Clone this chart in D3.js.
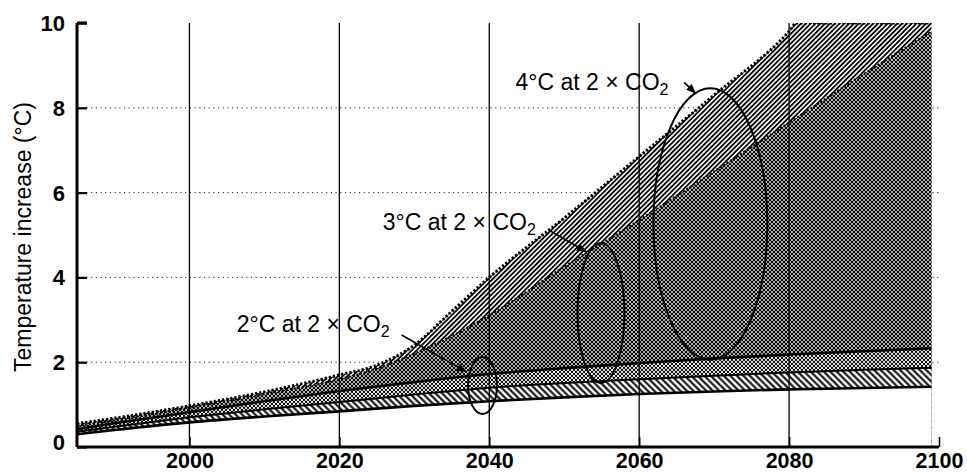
<!DOCTYPE html>
<html><head><meta charset="utf-8">
<script src="https://cdn.jsdelivr.net/npm/d3@7"></script>
<style>body{margin:0;background:#fff}svg{display:block;font-family:"Liberation Sans",Arial,Helvetica,sans-serif}</style>
</head><body><svg id="c" width="967" height="474"></svg>
<script>
// ---- data ----
const xTicks = [2000, 2020, 2040, 2060, 2080, 2100];
const yTicks = [0, 2, 4, 6, 8, 10];
const yTitle = "Temperature increase (°C)";
// outer (4°C at 2xCO2) upper edge
const topYears  = [1985, 1990, 2000, 2010, 2020, 2025, 2030, 2035, 2040, 2050, 2060, 2070, 2080, 2081, 2090, 2099];
const topValues = [0.55, 0.68, 0.97, 1.3, 1.7, 1.93, 2.4, 3.2, 4.0, 5.4, 6.85, 8.3, 9.8, 10, 10, 10];
// 3°C at 2xCO2 upper edge
const midYears  = [1985, 1990, 2000, 2010, 2020, 2025, 2030, 2035, 2040, 2050, 2060, 2070, 2080, 2090, 2099];
const midValues = [0.5, 0.63, 0.93, 1.25, 1.6, 1.85, 2.2, 2.62, 3.1, 4.25, 5.35, 6.5, 7.65, 8.8, 9.8];
// lower curves
const lowYears   = [1985, 1990, 2000, 2010, 2020, 2030, 2040, 2050, 2060, 2070, 2080, 2090, 2099];
const upperLine  = [0.42, 0.56, 0.82, 1.08, 1.32, 1.53, 1.72, 1.86, 1.98, 2.09, 2.18, 2.26, 2.33];
const middleLine = [0.36, 0.48, 0.70, 0.89, 1.06, 1.24, 1.40, 1.51, 1.60, 1.68, 1.76, 1.82, 1.87];
const bottomLine = [0.30, 0.40, 0.58, 0.72, 0.84, 0.97, 1.08, 1.17, 1.25, 1.31, 1.36, 1.39, 1.42];
// ellipse annotations
const ellipseNames   = ["2°C at 2 × CO", "3°C at 2 × CO", "4°C at 2 × CO"];
const ellipseYears   = [2039.1, 2054.9, 2069.5];
const ellipseValues  = [1.45, 3.16, 5.26];
const ellipseHalfYr  = [1.93, 3.13, 7.6];
const ellipseHalfVal = [0.67, 1.65, 3.2];

// ---- layout ----
const svg = d3.select("#c");
const x = d3.scaleLinear().domain([1985, 2100]).range([77, 939]);
const y = d3.scaleLinear().domain([0, 10]).range([447, 23]);
const defs = svg.append("defs");

function hatch(id, size, angle, w) {
  const p = defs.append("pattern").attr("id", id).attr("patternUnits", "userSpaceOnUse")
    .attr("width", size).attr("height", size).attr("patternTransform", `rotate(${angle})`);
  p.append("rect").attr("width", size).attr("height", size).attr("fill", "#fff");
  p.append("line").attr("x1", size / 2).attr("x2", size / 2).attr("y1", 0).attr("y2", size)
    .attr("stroke", "#000").attr("stroke-width", w);
}
hatch("hatchUp", 3.4, 45, 1.8);
hatch("hatchDown", 4.6, -45, 2.0);
{
  const p = defs.append("pattern").attr("id", "darkDots").attr("patternUnits", "userSpaceOnUse")
    .attr("width", 4).attr("height", 4);
  p.append("rect").attr("width", 4).attr("height", 4).attr("fill", "#000");
  [[0,0],[4,0],[0,4],[4,4],[2,2]].forEach(([a,b]) => p.append("circle").attr("cx", a).attr("cy", b).attr("r", 0.95).attr("fill", "#fff"));
}
{
  const p = defs.append("pattern").attr("id", "lightDots").attr("patternUnits", "userSpaceOnUse")
    .attr("width", 4).attr("height", 4);
  p.append("rect").attr("width", 4).attr("height", 4).attr("fill", "#fff");
  [[0,0],[4,0],[0,4],[4,4],[2,2]].forEach(([a,b]) => p.append("circle").attr("cx", a).attr("cy", b).attr("r", 1.15).attr("fill", "#000"));
}
defs.append("clipPath").attr("id", "plot").append("rect")
  .attr("x", x(1985)).attr("y", y(10)).attr("width", x(2100) - x(1985)).attr("height", y(0) - y(10));
defs.append("marker").attr("id", "arr").attr("markerUnits", "userSpaceOnUse")
  .attr("viewBox", "0 0 10 8").attr("refX", 10).attr("refY", 4)
  .attr("markerWidth", 10).attr("markerHeight", 8).attr("orient", "auto")
  .append("path").attr("d", "M0,0 L10,4 L0,8 Z").attr("fill", "#000");

// horizontal dotted gridlines
svg.append("g").selectAll("line").data(yTicks.filter(v => v > 0 && v < 10)).join("line")
  .attr("x1", x(1985)).attr("x2", x(2100)).attr("y1", d => y(d)).attr("y2", d => y(d))
  .attr("stroke", "#222").attr("stroke-width", 1).attr("stroke-dasharray", "1.2,3.5");

const pts = (ys, vs) => ys.map((yr, i) => [yr, vs[i]]);
const area = d3.area().x(d => x(d[0])).y0(y(0)).y1(d => y(d[1])).curve(d3.curveMonotoneX);
const line = d3.line().x(d => x(d[0])).y(d => y(d[1])).curve(d3.curveMonotoneX);

const g = svg.append("g").attr("clip-path", "url(#plot)");
g.append("path").attr("d", area(pts(topYears, topValues))).attr("fill", "url(#hatchUp)");
g.append("path").attr("d", area(pts(midYears, midValues))).attr("fill", "url(#darkDots)");
g.append("path").attr("d", area(pts(lowYears, upperLine))).attr("fill", "url(#lightDots)");
g.append("path").attr("d", area(pts(lowYears, middleLine))).attr("fill", "url(#hatchDown)");
g.append("path").attr("d", area(pts(lowYears, bottomLine))).attr("fill", "#fff");

// vertical gridlines
svg.append("g").selectAll("line").data(xTicks.filter(v => v < 2100)).join("line")
  .attr("x1", d => x(d)).attr("x2", d => x(d)).attr("y1", y(10)).attr("y2", y(0))
  .attr("stroke", "#000").attr("stroke-width", 1.3);

// edges
g.append("path").attr("d", line(pts(topYears, topValues))).attr("fill", "none")
  .attr("stroke", "#000").attr("stroke-width", 3).attr("stroke-dasharray", "2.2,2");
g.append("path").attr("d", line(pts(midYears, midValues))).attr("fill", "none")
  .attr("stroke", "#000").attr("stroke-width", 2.2).attr("stroke-dasharray", "2,2");
[[upperLine, 2.6], [middleLine, 2], [bottomLine, 2.6]].forEach(([vals, w]) => {
  g.append("path").attr("d", line(pts(lowYears, vals))).attr("fill", "none")
    .attr("stroke", "#000").attr("stroke-width", w);
});

// ellipses
svg.append("g").selectAll("ellipse").data(ellipseNames).join("ellipse")
  .attr("cx", (d, i) => x(ellipseYears[i])).attr("cy", (d, i) => y(ellipseValues[i]))
  .attr("rx", (d, i) => x(ellipseYears[i] + ellipseHalfYr[i]) - x(ellipseYears[i]))
  .attr("ry", (d, i) => y(0) - y(ellipseHalfVal[i]))
  .attr("fill", "none").attr("stroke", "#000").attr("stroke-width", 2);

// labels and leader arrows (layout in data units)
const labelPos = [[2006.3, 2.71], [2025.8, 5.12], [2043.5, 8.42]];
const arrowFrom = [[2028.3, 2.64], [2047.9, 5.12], [2066.0, 8.6]];
const arrowTo = [[2037.0, 1.77], [2053.0, 4.6], [2067.6, 8.33]];
ellipseNames.forEach((name, i) => {
  const t = svg.append("text").attr("x", x(labelPos[i][0])).attr("y", y(labelPos[i][1]))
    .attr("font-size", 23).attr("fill", "#000");
  t.append("tspan").text(name);
  t.append("tspan").attr("font-size", 16).attr("dy", 5).text("2");
  svg.append("line").attr("x1", x(arrowFrom[i][0])).attr("y1", y(arrowFrom[i][1]))
    .attr("x2", x(arrowTo[i][0])).attr("y2", y(arrowTo[i][1]))
    .attr("stroke", "#000").attr("stroke-width", 1.6).attr("marker-end", "url(#arr)");
});

// axes
const yAxis = svg.append("g").attr("transform", `translate(${x(1985)},0)`)
  .call(d3.axisLeft(y).tickValues(yTicks).tickSize(-10).tickPadding(12));
yAxis.select(".domain").attr("stroke-width", 3).attr("d", `M0,${y(10)}H10M0,${y(10)}V${y(0)}`);
yAxis.selectAll(".tick line").attr("stroke-width", 2.2);
yAxis.selectAll("text").attr("font-size", 22).attr("font-weight", "bold")
  .attr("font-family", '"Liberation Sans",Arial,sans-serif')
  .attr("dy", d => d === 0 ? "0.1em" : "0.34em");

const xAxis = svg.append("g").attr("transform", `translate(0,${y(0)})`)
  .call(d3.axisBottom(x).tickValues(xTicks).tickFormat(d3.format("d")).tickSize(-10).tickPadding(6));
xAxis.select(".domain").attr("stroke-width", 3).attr("d", `M${x(1985)},0H${x(2100)}`);
xAxis.selectAll(".tick line").attr("stroke-width", 1.6);
xAxis.selectAll("text").attr("font-size", 21.5).attr("font-weight", "bold")
  .attr("font-family", '"Liberation Sans",Arial,sans-serif');

svg.append("text").attr("transform", `translate(31,${(y(10) + y(0)) / 2 + 2}) rotate(-90)`)
  .attr("text-anchor", "middle").attr("font-size", 23).text(yTitle);
</script></body></html>
